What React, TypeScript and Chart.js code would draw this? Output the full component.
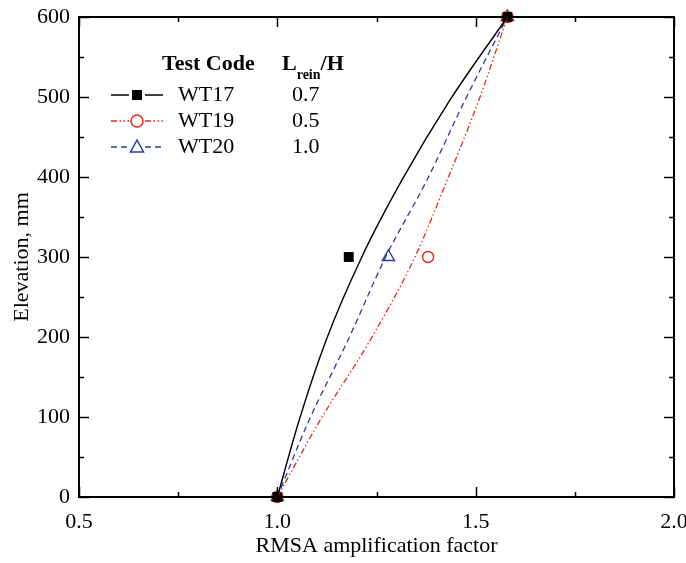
import React, { useEffect, useRef } from "react";
import { Chart, registerables } from "chart.js";

Chart.register(...registerables);

// Measured points
const elevations = [0, 300, 600];
const wt17 = [1.0, 1.18, 1.58];
const wt19 = [1.0, 1.38, 1.58];
const wt20 = [1.0, 1.28, 1.58];

// Fitted curves
const curveElev = [0, 96, 196, 300, 396, 496, 600];
const fit17 = [1.0, 1.055, 1.123, 1.213, 1.314, 1.435, 1.58];
const fit19 = [1.0, 1.108, 1.234, 1.347, 1.428, 1.508, 1.58];
const fit20 = [1.0, 1.08, 1.178, 1.273, 1.377, 1.473, 1.58];

const xTicks = [0.5, 1.0, 1.5, 2.0];
const yTicks = [0, 100, 200, 300, 400, 500, 600];

const legendRows = [
  { code: "WT17", ratio: "0.7" },
  { code: "WT19", ratio: "0.5" },
  { code: "WT20", ratio: "1.0" },
];

const BLACK = "#000000";
const RED = "#e8281e";
const BLUE = "#2b3a9e";
const FONT = "'Liberation Serif', 'Times New Roman', serif";

const pts = (xs: number[], ys: number[]) => xs.map((x, i) => ({ x, y: ys[i] }));

const RED_DASH = [6, 2.5, 1.5, 2.5, 1.5, 2.5];
const BLUE_DASH = [6, 4];

const framePlugin = {
  id: "frameTicks",
  afterDraw(chart: any) {
    const { ctx, chartArea: a, scales } = chart;
    const xs = scales.x;
    const ys = scales.y;
    ctx.save();
    ctx.strokeStyle = "#000";
    ctx.lineWidth = 2;
    ctx.strokeRect(a.left, a.top, a.right - a.left, a.bottom - a.top);
    ctx.lineWidth = 1.5;
    ctx.beginPath();
    for (let v = 0.5; v <= 2.0001; v += 0.25) {
      const px = Math.round(xs.getPixelForValue(v)) + 0.5;
      const major = Math.abs(v * 2 - Math.round(v * 2)) < 1e-6;
      const len = major ? 10 : 5;
      ctx.moveTo(px, a.bottom);
      ctx.lineTo(px, a.bottom - len);
      ctx.moveTo(px, a.top);
      ctx.lineTo(px, a.top + len);
    }
    for (let v = 0; v <= 600; v += 50) {
      const py = Math.round(ys.getPixelForValue(v)) + 0.5;
      const len = v % 100 === 0 ? 10 : 5;
      ctx.moveTo(a.left, py);
      ctx.lineTo(a.left + len, py);
      ctx.moveTo(a.right, py);
      ctx.lineTo(a.right - len, py);
    }
    ctx.stroke();

    // Legend
    ctx.fillStyle = "#000";
    ctx.textBaseline = "middle";
    ctx.textAlign = "left";
    ctx.font = `bold 22px ${FONT}`;
    ctx.fillText("Test Code", 162, 64);
    ctx.fillText("L", 282, 64);
    const lw = ctx.measureText("L").width;
    ctx.font = `bold 14px ${FONT}`;
    ctx.fillText("rein", 282 + lw, 75);
    const rw = ctx.measureText("rein").width;
    ctx.font = `bold 22px ${FONT}`;
    ctx.fillText("/H", 282 + lw + rw, 64);

    const rowsY = [95, 121, 147];
    const colors = [BLACK, RED, BLUE];
    const dashes = [[], RED_DASH, BLUE_DASH];
    legendRows.forEach((r, i) => {
      const y = rowsY[i];
      ctx.strokeStyle = colors[i];
      ctx.lineWidth = 1.3;
      ctx.setLineDash(dashes[i]);
      ctx.beginPath();
      ctx.moveTo(111, y);
      ctx.lineTo(129, y);
      ctx.moveTo(145, y);
      ctx.lineTo(163, y);
      ctx.stroke();
      ctx.setLineDash([]);
      ctx.lineWidth = 1.5;
      if (i === 0) {
        ctx.fillStyle = BLACK;
        ctx.fillRect(132, y - 5, 10, 10);
      } else if (i === 1) {
        ctx.beginPath();
        ctx.arc(137, y, 6, 0, Math.PI * 2);
        ctx.stroke();
      } else {
        ctx.beginPath();
        ctx.moveTo(137, y - 7);
        ctx.lineTo(143.5, y + 5);
        ctx.lineTo(130.5, y + 5);
        ctx.closePath();
        ctx.stroke();
      }
      ctx.fillStyle = "#000";
      ctx.font = `22px ${FONT}`;
      ctx.fillText(r.code, 178, y);
      ctx.fillText(r.ratio, 292, y);
    });
    ctx.restore();
  },
};

const curve = (label: string, data: any, color: string, dash: number[], width: number) => ({
  label,
  data,
  showLine: true,
  borderColor: color,
  borderWidth: width,
  borderDash: dash,
  pointRadius: 0,
  cubicInterpolationMode: "monotone",
  clip: false,
});

export default function App() {
  const ref = useRef<HTMLCanvasElement | null>(null);
  useEffect(() => {
    document.body.style.margin = "0";
    const canvas = ref.current!;
    const chart = new Chart(canvas, {
      type: "scatter",
      data: {
        datasets: [
          curve("fit17", pts(fit17, curveElev), BLACK, [], 1.4),
          curve("fit20", pts(fit20, curveElev), BLUE, BLUE_DASH, 1.3),
          curve("fit19", pts(fit19, curveElev), RED, RED_DASH, 1.3),
          {
            label: "WT17",
            data: pts(wt17, elevations),
            showLine: false,
            pointStyle: "rect",
            pointRadius: 7,
            backgroundColor: BLACK,
            borderColor: BLACK,
            borderWidth: 0,
            clip: false,
          },
          {
            label: "WT19",
            data: pts(wt19, elevations),
            showLine: false,
            pointStyle: "circle",
            pointRadius: 5.5,
            backgroundColor: "#ffffff",
            borderColor: RED,
            borderWidth: 1.4,
            clip: false,
          },
          {
            label: "WT20",
            data: pts(wt20, elevations),
            showLine: false,
            pointStyle: "triangle",
            pointRadius: 7,
            backgroundColor: "#ffffff",
            borderColor: BLUE,
            borderWidth: 1.4,
            clip: false,
          },
        ] as any,
      },
      options: {
        animation: false,
        responsive: true,
        maintainAspectRatio: false,
        layout: { padding: { left: 0, right: 12, top: 17, bottom: 0 } },
        plugins: { legend: { display: false }, tooltip: { enabled: false } },
        scales: {
          x: {
            type: "linear",
            min: 0.5,
            max: 2.0,
            afterBuildTicks: (s: any) => {
              s.ticks = xTicks.map((v) => ({ value: v }));
            },
            afterFit: (s: any) => {
              s.height = 66;
              s.paddingLeft = 0;
              s.paddingRight = 0;
            },
            ticks: {
              callback: (v: any) => Number(v).toFixed(1),
              font: { family: FONT, size: 22 },
              color: "#000",
              padding: 12,
              maxRotation: 0,
            },
            grid: { display: true, color: "rgba(0,0,0,0)", drawTicks: false, drawOnChartArea: false },
            border: { display: false },
            title: {
              display: true,
              text: "RMSA amplification factor",
              font: { family: FONT, size: 22 },
              color: "#000",
              padding: { top: 0, bottom: 4 },
            },
          },
          y: {
            type: "linear",
            min: 0,
            max: 600,
            afterBuildTicks: (s: any) => {
              s.ticks = yTicks.map((v) => ({ value: v }));
            },
            afterFit: (s: any) => {
              s.width = 79;
              s.paddingTop = 0;
              s.paddingBottom = 0;
            },
            ticks: {
              font: { family: FONT, size: 22 },
              color: "#000",
              padding: 9,
            },
            grid: { display: true, color: "rgba(0,0,0,0)", drawTicks: false, drawOnChartArea: false },
            border: { display: false },
            title: {
              display: true,
              text: "Elevation, mm",
              font: { family: FONT, size: 22 },
              color: "#000",
              padding: { top: 9, bottom: 0 },
            },
          },
        },
      } as any,
      plugins: [framePlugin],
    });
    return () => chart.destroy();
  }, []);
  return (
    <div style={{ position: "absolute", left: 0, top: 0, width: 686, height: 563 }}>
      <canvas ref={ref} />
    </div>
  );
}
